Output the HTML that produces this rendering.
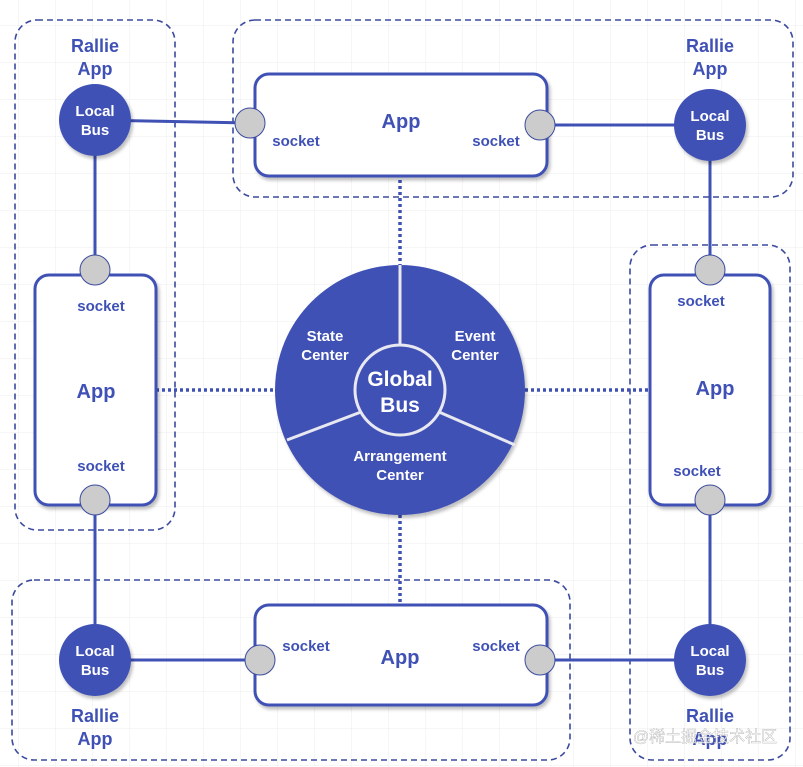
<!DOCTYPE html>
<html><head><meta charset="utf-8"><style>
body{margin:0;background:#fff}
svg{display:block}
text{font-family:"Liberation Sans",Arial,sans-serif;font-weight:bold}
</style></head><body>
<svg width="803" height="767" viewBox="0 0 803 767" xmlns="http://www.w3.org/2000/svg">
<defs>
<pattern id="g" width="37" height="37" patternUnits="userSpaceOnUse" x="18" y="25">
<path d="M0 0H37M0 0V37" stroke="#ececec" stroke-width="1" fill="none"/>
</pattern>
<filter id="sh"><feDropShadow dx="2" dy="3" stdDeviation="1.5" flood-color="#000" flood-opacity="0.25"/></filter>
</defs>
<rect width="803" height="767" fill="url(#g)"/>
<g fill="none" stroke="#3b4a9e" stroke-width="1.6" stroke-dasharray="6,4">
<rect x="15" y="20" width="160" height="510" rx="22"/>
<rect x="233" y="20" width="560" height="177" rx="22"/>
<rect x="630" y="245" width="160" height="515" rx="22"/>
<rect x="12" y="580" width="558" height="180" rx="22"/>
</g>
<g stroke="#3f51b5" stroke-width="3">
<line x1="95" y1="120" x2="250" y2="123"/>
<line x1="540" y1="125" x2="710" y2="125"/>
<line x1="95" y1="120" x2="95" y2="270"/>
<line x1="710" y1="125" x2="710" y2="270"/>
<line x1="95" y1="500" x2="95" y2="660"/>
<line x1="710" y1="500" x2="710" y2="660"/>
<line x1="95" y1="660" x2="260" y2="660"/>
<line x1="540" y1="660" x2="710" y2="660"/>
</g>
<g stroke="#3f51b5" stroke-width="3.5" stroke-dasharray="3,3">
<line x1="400" y1="180" x2="400" y2="265"/>
<line x1="400" y1="515" x2="400" y2="605"/>
<line x1="156" y1="390" x2="275" y2="390"/>
<line x1="525" y1="390" x2="650" y2="390"/>
</g>
<g fill="#fff" stroke="#3f51b5" stroke-width="3" filter="url(#sh)">
<rect x="255" y="74" width="292" height="102" rx="14"/>
<rect x="35" y="275" width="121" height="230" rx="14"/>
<rect x="650" y="275" width="120" height="230" rx="14"/>
<rect x="255" y="605" width="292" height="100" rx="14"/>
</g>
<g fill="#3f51b5" filter="url(#sh)">
<circle cx="95" cy="120" r="36"/>
<circle cx="710" cy="125" r="36"/>
<circle cx="95" cy="660" r="36"/>
<circle cx="710" cy="660" r="36"/>
<circle cx="400" cy="390" r="125"/>
</g>
<g stroke="#e8e8f0" stroke-width="3" fill="none">
<circle cx="400" cy="390" r="45"/>
<line x1="400" y1="265" x2="400" y2="345"/>
<line x1="361" y1="412" x2="287" y2="440"/>
<line x1="439" y1="412" x2="515" y2="445"/>
</g>
<g fill="#cccccc" stroke="#3b4a9e" stroke-width="1">
<circle cx="250" cy="123" r="15"/>
<circle cx="540" cy="125" r="15"/>
<circle cx="95" cy="270" r="15"/>
<circle cx="95" cy="500" r="15"/>
<circle cx="710" cy="270" r="15"/>
<circle cx="710" cy="500" r="15"/>
<circle cx="260" cy="660" r="15"/>
<circle cx="540" cy="660" r="15"/>
</g>
<g fill="#3f51b5" text-anchor="middle" font-size="18">
<text x="95" y="52">Rallie</text><text x="95" y="75">App</text>
<text x="710" y="52">Rallie</text><text x="710" y="75">App</text>
<text x="95" y="722">Rallie</text><text x="95" y="745">App</text>
<text x="710" y="722">Rallie</text><text x="710" y="745">App</text>
</g>
<g fill="#3f51b5" text-anchor="middle" font-size="20">
<text x="401" y="128">App</text>
<text x="96" y="398">App</text>
<text x="715" y="395">App</text>
<text x="400" y="664">App</text>
</g>
<g fill="#3f51b5" text-anchor="middle" font-size="15">
<text x="296" y="146">socket</text>
<text x="496" y="146">socket</text>
<text x="101" y="311">socket</text>
<text x="101" y="471">socket</text>
<text x="701" y="306">socket</text>
<text x="697" y="476">socket</text>
<text x="306" y="651">socket</text>
<text x="496" y="651">socket</text>
</g>
<g fill="#fff" text-anchor="middle" font-size="15">
<text x="95" y="116">Local</text><text x="95" y="135">Bus</text>
<text x="710" y="121">Local</text><text x="710" y="140">Bus</text>
<text x="95" y="656">Local</text><text x="95" y="675">Bus</text>
<text x="710" y="656">Local</text><text x="710" y="675">Bus</text>
<text x="325" y="341">State</text><text x="325" y="360">Center</text>
<text x="475" y="341">Event</text><text x="475" y="360">Center</text>
<text x="400" y="461">Arrangement</text><text x="400" y="480">Center</text>
<text x="400" y="386" font-size="21">Global</text><text x="400" y="412" font-size="21">Bus</text>
</g>
<text x="705" y="742" font-size="16" fill="#fff" fill-opacity="0.8" stroke="#999" stroke-width="0.3" style="font-weight:normal;font-family:'Liberation Sans','Noto Sans CJK SC',sans-serif" text-anchor="middle">@稀土掘金技术社区</text>
</svg>
</body></html>
